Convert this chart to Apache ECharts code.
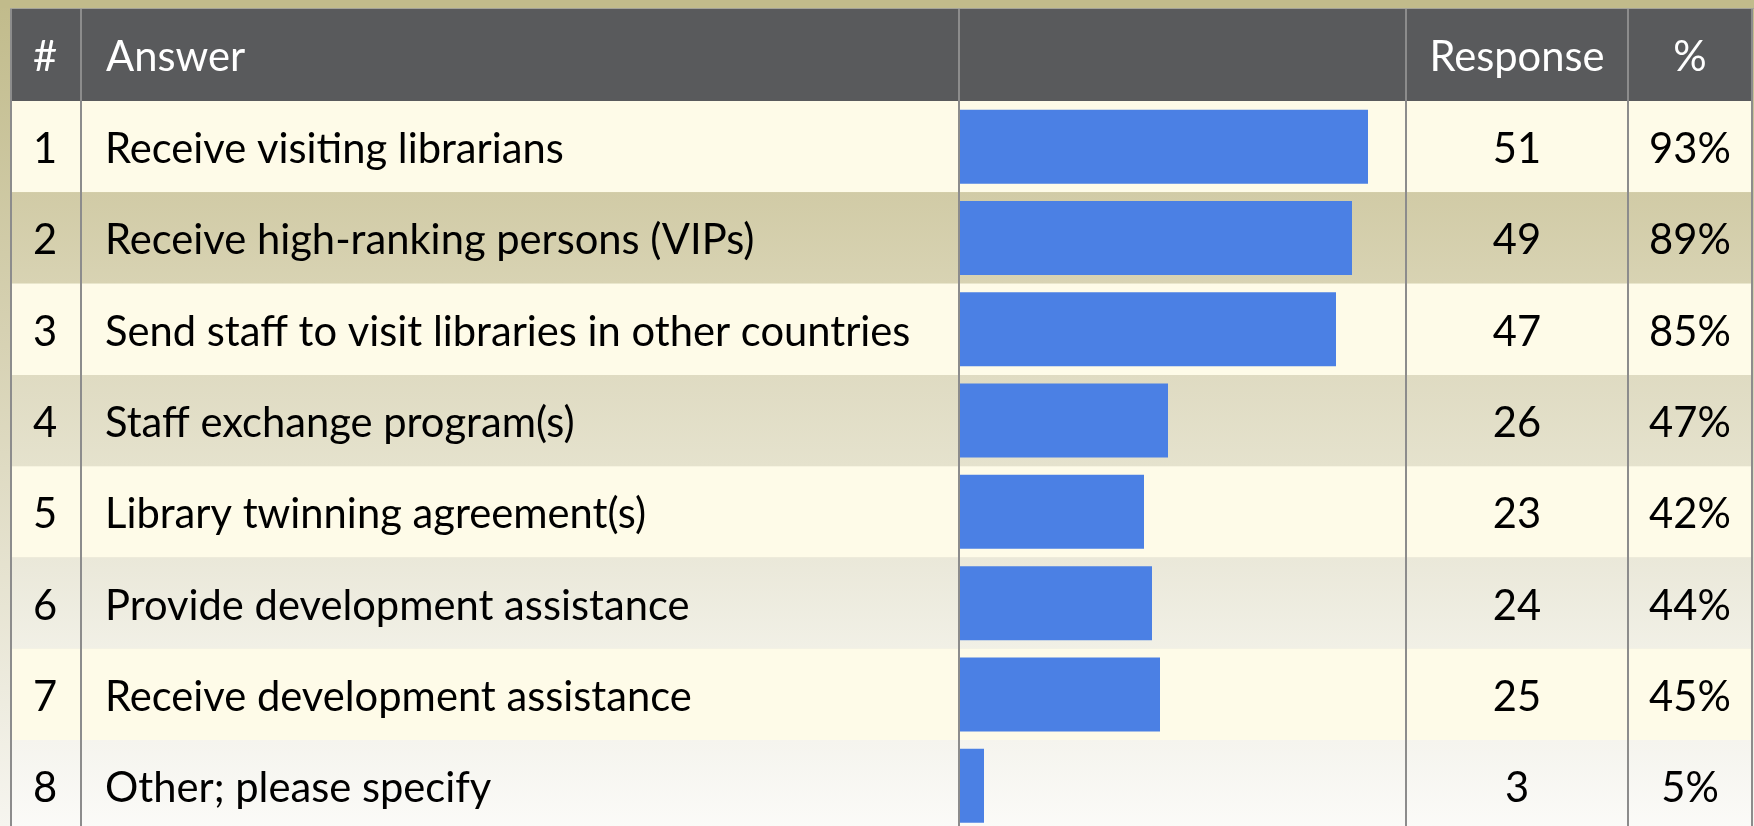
<!DOCTYPE html>
<html>
<head>
<meta charset="utf-8">
<script src="https://cdn.jsdelivr.net/npm/echarts@6/dist/echarts.min.js"></script>
<style>
  html, body { margin: 0; padding: 0; }
  body { width: 1754px; height: 826px; overflow: hidden;
         background: linear-gradient(to bottom, #c1bb8b 0%, #d6d1b2 40%, #f6f5ef 100%); }
  #chart { width: 1754px; height: 826px; }
</style>
</head>
<body>
<div id="chart"></div>
<script>
const headers = ['#', 'Answer', 'Response', '%'];
const rowNumbers = ['1', '2', '3', '4', '5', '6', '7', '8'];
const answers = [
  'Receive visiting librarians',
  'Receive high-ranking persons (VIPs)',
  'Send staff to visit libraries in other countries',
  'Staff exchange program(s)',
  'Library twinning agreement(s)',
  'Provide development assistance',
  'Receive development assistance',
  'Other; please specify'
];
const responses = [51, 49, 47, 26, 23, 24, 25, 3];
const percents = ['93%', '89%', '85%', '47%', '42%', '44%', '45%', '5%'];
const totalRespondents = 55;

const FONT = 'Lato';
const FS = 41.7;
const TOP = 101, ROW_H = 91.3;
const grad = (a, b) => ({ type: 'linear', x: 0, y: 0, x2: 0, y2: 1,
  colorStops: [{ offset: 0, color: a }, { offset: 1, color: b }] });
const cream = '#fefbe8';
const rowColors = [
  cream, grad('#d1cba6', '#d8d3b3'),
  cream, grad('#dfdbc2', '#e5e2cd'),
  cream, grad('#eae8d9', '#f1f0e6'),
  cream, grad('#f5f4ee', '#fbfbf8')
];

const chart = echarts.init(document.getElementById('chart'), null, { renderer: 'canvas' });

const vLines = [11, 81, 959, 1406, 1628, 1752].map(x => ({
  type: 'line', z: 20, silent: true,
  shape: { x1: x, y1: 9, x2: x, y2: 826 },
  style: { stroke: '#8c8c8c', lineWidth: 2 }
}));

const headerText = (txt, x, align) => ({
  type: 'text', z: 21, silent: true,
  x: x, y: 58,
  style: { text: txt, fill: '#ffffff', font: FS + 'px ' + FONT, align: align, verticalAlign: 'middle' }
});

const cell = (extra) => Object.assign({ fontFamily: FONT, fontSize: FS, color: '#000', padding: [6, 0, 0, 0] }, extra);

chart.setOption({
  backgroundColor: 'transparent',
  animation: false,
  grid: [
    { left: 10, width: 1742, top: TOP, height: ROW_H * answers.length, outerBoundsMode: 'none', containLabel: false },
    { left: 960, width: 440, top: TOP, height: ROW_H * answers.length, outerBoundsMode: 'none', containLabel: false }
  ],
  xAxis: [
    { gridIndex: 0, type: 'value', show: false, min: 0, max: 1 },
    { gridIndex: 1, type: 'value', show: false, min: 0, max: totalRespondents }
  ],
  yAxis: [
    {
      gridIndex: 0, type: 'category', data: answers, inverse: true, position: 'left',
      axisLine: { show: false }, axisTick: { show: false }, splitLine: { show: false },
      splitArea: { show: true, interval: 0, areaStyle: { color: rowColors } },
      axisLabel: {
        inside: true, margin: 0, interval: 0,
        formatter: (v, i) => '{n|' + rowNumbers[i] + '}{a|' + v + '}',
        rich: {
          n: cell({ width: 70, align: 'center' }),
          a: cell({ padding: [6, 0, 0, 25] })
        }
      },
      z: 0
    },
    {
      gridIndex: 0, type: 'category', data: answers, inverse: true, position: 'right',
      axisLine: { show: false }, axisTick: { show: false }, splitLine: { show: false },
      axisLabel: {
        inside: true, margin: 0, interval: 0,
        formatter: (v, i) => '{r|' + responses[i] + '}{p|' + percents[i] + '}',
        rich: {
          r: cell({ width: 222, align: 'center' }),
          p: cell({ width: 124, align: 'center' })
        }
      },
      z: 0
    },
    {
      gridIndex: 1, type: 'category', data: answers, inverse: true, show: false
    }
  ],
  series: [
    {
      type: 'bar', xAxisIndex: 1, yAxisIndex: 2,
      data: responses,
      barCategoryGap: '19%',
      itemStyle: { color: '#4b80e4' },
      z: 10
    }
  ],
  graphic: [
    { type: 'rect', z: 15, silent: true, shape: { x: 0, y: 0, width: 1754, height: 8 }, style: { fill: '#c1bb8b' } },
    { type: 'line', z: 16, silent: true, shape: { x1: 10, y1: 8.5, x2: 1754, y2: 8.5 }, style: { stroke: '#a3a39a', lineWidth: 1 } },
    { type: 'rect', z: 15, silent: true, shape: { x: 11, y: 9, width: 1741, height: 92 }, style: { fill: '#595a5c' } },
    headerText(headers[0], 45, 'center'),
    headerText(headers[1], 106, 'left'),
    headerText(headers[2], 1517, 'center'),
    headerText(headers[3], 1690, 'center')
  ].concat(vLines)
});
</script>
</body>
</html>
